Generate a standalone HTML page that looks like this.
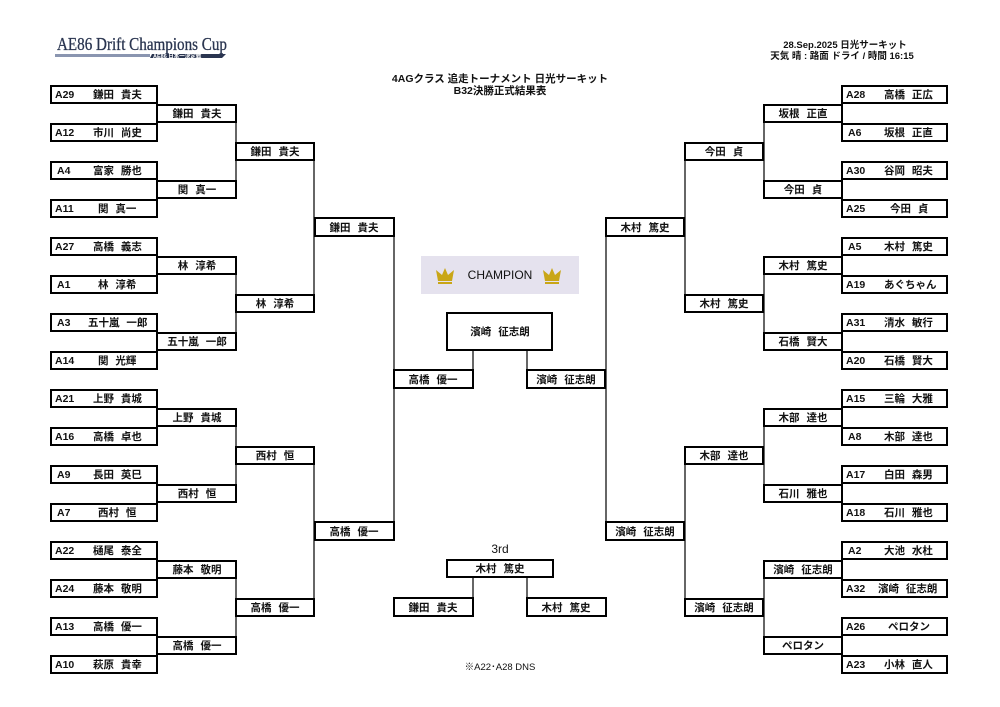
<!DOCTYPE html>
<html><head><meta charset="utf-8"><style>
html,body{margin:0;padding:0;background:#fff;width:1000px;height:707px;overflow:hidden}
svg{display:block}
text{font-family:"Liberation Sans","Noto Sans CJK JP",sans-serif;font-weight:bold;fill:#111}
.b{fill:#fff;stroke:#000;stroke-width:2}
.l{stroke:#000;stroke-width:1.2;fill:none}
.t{font-size:10.5px;word-spacing:4px}
</style></head><body>
<svg width="1000" height="707" viewBox="0 0 1000 707" xmlns="http://www.w3.org/2000/svg">
<!-- logo -->
<text x="57" y="50" textLength="170" lengthAdjust="spacingAndGlyphs" style="font-family:'Liberation Serif',serif;font-size:18px;font-weight:normal;fill:#2a3550;stroke:#2a3550;stroke-width:0.3">AE86 Drift Champions Cup</text>
<polygon points="55,58 150,58 152,54 226,54 222,58 55,58" fill="#2a3550"/>
<rect x="55" y="54" width="95" height="3" fill="#8a95b0"/>
<text x="153" y="58" style="font-size:5.5px;fill:#fff">AE86 日本一決定戦</text>
<!-- title -->
<text x="500" y="82" text-anchor="middle" style="font-size:10.5px">4AGクラス 追走トーナメント 日光サーキット</text>
<text x="500" y="94" text-anchor="middle" style="font-size:10.5px">B32決勝正式結果表</text>
<text x="845" y="48" text-anchor="middle" style="font-size:9.5px">28.Sep.2025 日光サーキット</text>
<text x="842" y="59" text-anchor="middle" style="font-size:9.5px">天気 晴 : 路面 ドライ / 時間 16:15</text>

<!-- connectors -->
<g class="l">
<line x1="236" y1="104" x2="236" y2="199"/><line x1="236" y1="256" x2="236" y2="351"/>
<line x1="236" y1="408" x2="236" y2="503"/><line x1="236" y1="560" x2="236" y2="655"/>
<line x1="314" y1="142" x2="314" y2="313"/><line x1="314" y1="446" x2="314" y2="617"/>
<line x1="394" y1="218" x2="394" y2="541"/>
<line x1="764" y1="104" x2="764" y2="199"/><line x1="764" y1="256" x2="764" y2="351"/>
<line x1="764" y1="408" x2="764" y2="503"/><line x1="764" y1="560" x2="764" y2="655"/>
<line x1="685" y1="142" x2="685" y2="313"/><line x1="685" y1="446" x2="685" y2="617"/>
<line x1="606" y1="218" x2="606" y2="541"/>
<line x1="473" y1="350" x2="473" y2="370"/><line x1="527" y1="350" x2="527" y2="370"/>
<line x1="473" y1="578" x2="473" y2="598"/><line x1="527" y1="578" x2="527" y2="598"/>
</g>

<!-- left R1 -->
<g class="t">
<rect class="b" x="51" y="86" width="106" height="17"/><text x="55" y="98">A29</text><text x="93" y="98">鎌田 貴夫</text>
<rect class="b" x="51" y="124" width="106" height="17"/><text x="55" y="136">A12</text><text x="93" y="136">市川 尚史</text>
<rect class="b" x="51" y="162" width="106" height="17"/><text x="57" y="174">A4</text><text x="93" y="174">富家 勝也</text>
<rect class="b" x="51" y="200" width="106" height="17"/><text x="55" y="212">A11</text><text x="98" y="212">関 真一</text>
<rect class="b" x="51" y="238" width="106" height="17"/><text x="55" y="250">A27</text><text x="93" y="250">高橋 義志</text>
<rect class="b" x="51" y="276" width="106" height="17"/><text x="57" y="288">A1</text><text x="98" y="288">林 淳希</text>
<rect class="b" x="51" y="314" width="106" height="17"/><text x="57" y="326">A3</text><text x="88" y="326">五十嵐 一郎</text>
<rect class="b" x="51" y="352" width="106" height="17"/><text x="55" y="364">A14</text><text x="98" y="364">関 光輝</text>
<rect class="b" x="51" y="390" width="106" height="17"/><text x="55" y="402">A21</text><text x="93" y="402">上野 貴城</text>
<rect class="b" x="51" y="428" width="106" height="17"/><text x="55" y="440">A16</text><text x="93" y="440">高橋 卓也</text>
<rect class="b" x="51" y="466" width="106" height="17"/><text x="57" y="478">A9</text><text x="93" y="478">長田 英巳</text>
<rect class="b" x="51" y="504" width="106" height="17"/><text x="57" y="516">A7</text><text x="98" y="516">西村 恒</text>
<rect class="b" x="51" y="542" width="106" height="17"/><text x="55" y="554">A22</text><text x="93" y="554">樋尾 泰全</text>
<rect class="b" x="51" y="580" width="106" height="17"/><text x="55" y="592">A24</text><text x="93" y="592">藤本 敬明</text>
<rect class="b" x="51" y="618" width="106" height="17"/><text x="55" y="630">A13</text><text x="93" y="630">高橋 優一</text>
<rect class="b" x="51" y="656" width="106" height="17"/><text x="55" y="668">A10</text><text x="93" y="668">萩原 貴幸</text>
</g>
<g class="t" text-anchor="middle">
<rect class="b" x="157" y="105" width="79" height="17"/><text x="197" y="117">鎌田 貴夫</text>
<rect class="b" x="157" y="181" width="79" height="17"/><text x="197" y="193">関 真一</text>
<rect class="b" x="157" y="257" width="79" height="17"/><text x="197" y="269">林 淳希</text>
<rect class="b" x="157" y="333" width="79" height="17"/><text x="197" y="345">五十嵐 一郎</text>
<rect class="b" x="157" y="409" width="79" height="17"/><text x="197" y="421">上野 貴城</text>
<rect class="b" x="157" y="485" width="79" height="17"/><text x="197" y="497">西村 恒</text>
<rect class="b" x="157" y="561" width="79" height="17"/><text x="197" y="573">藤本 敬明</text>
<rect class="b" x="157" y="637" width="79" height="17"/><text x="197" y="649">高橋 優一</text>
<rect class="b" x="236" y="143" width="78" height="17"/><text x="275" y="155">鎌田 貴夫</text>
<rect class="b" x="236" y="295" width="78" height="17"/><text x="275" y="307">林 淳希</text>
<rect class="b" x="236" y="447" width="78" height="17"/><text x="275" y="459">西村 恒</text>
<rect class="b" x="236" y="599" width="78" height="17"/><text x="275" y="611">高橋 優一</text>
<rect class="b" x="315" y="218" width="79" height="18"/><text x="354" y="231">鎌田 貴夫</text>
<rect class="b" x="315" y="522" width="79" height="18"/><text x="354" y="535">高橋 優一</text>
<rect class="b" x="394" y="370" width="79" height="18"/><text x="433" y="383">高橋 優一</text>
<rect class="b" x="527" y="370" width="78" height="18"/><text x="566" y="383">濱崎 征志朗</text>
<rect class="b" x="606" y="218" width="78" height="18"/><text x="645" y="231">木村 篤史</text>
<rect class="b" x="606" y="522" width="78" height="18"/><text x="645" y="535">濱崎 征志朗</text>
<rect class="b" x="685" y="143" width="78" height="17"/><text x="724" y="155">今田 貞</text>
<rect class="b" x="685" y="295" width="78" height="17"/><text x="724" y="307">木村 篤史</text>
<rect class="b" x="685" y="447" width="78" height="17"/><text x="724" y="459">木部 達也</text>
<rect class="b" x="685" y="599" width="78" height="17"/><text x="724" y="611">濱崎 征志朗</text>
<rect class="b" x="764" y="105" width="78" height="17"/><text x="803" y="117">坂根 正直</text>
<rect class="b" x="764" y="181" width="78" height="17"/><text x="803" y="193">今田 貞</text>
<rect class="b" x="764" y="257" width="78" height="17"/><text x="803" y="269">木村 篤史</text>
<rect class="b" x="764" y="333" width="78" height="17"/><text x="803" y="345">石橋 賢大</text>
<rect class="b" x="764" y="409" width="78" height="17"/><text x="803" y="421">木部 達也</text>
<rect class="b" x="764" y="485" width="78" height="17"/><text x="803" y="497">石川 雅也</text>
<rect class="b" x="764" y="561" width="78" height="17"/><text x="803" y="573">濱崎 征志朗</text>
<rect class="b" x="764" y="637" width="78" height="17"/><text x="803" y="649">ペロタン</text>
</g>
<g class="t">
<rect class="b" x="842" y="86" width="105" height="17"/><text x="846" y="98">A28</text><text x="884" y="98">高橋 正広</text>
<rect class="b" x="842" y="124" width="105" height="17"/><text x="848" y="136">A6</text><text x="884" y="136">坂根 正直</text>
<rect class="b" x="842" y="162" width="105" height="17"/><text x="846" y="174">A30</text><text x="884" y="174">谷岡 昭夫</text>
<rect class="b" x="842" y="200" width="105" height="17"/><text x="846" y="212">A25</text><text x="890" y="212">今田 貞</text>
<rect class="b" x="842" y="238" width="105" height="17"/><text x="848" y="250">A5</text><text x="884" y="250">木村 篤史</text>
<rect class="b" x="842" y="276" width="105" height="17"/><text x="846" y="288">A19</text><text x="884" y="288">あぐちゃん</text>
<rect class="b" x="842" y="314" width="105" height="17"/><text x="846" y="326">A31</text><text x="884" y="326">清水 敏行</text>
<rect class="b" x="842" y="352" width="105" height="17"/><text x="846" y="364">A20</text><text x="884" y="364">石橋 賢大</text>
<rect class="b" x="842" y="390" width="105" height="17"/><text x="846" y="402">A15</text><text x="884" y="402">三輪 大雅</text>
<rect class="b" x="842" y="428" width="105" height="17"/><text x="848" y="440">A8</text><text x="884" y="440">木部 達也</text>
<rect class="b" x="842" y="466" width="105" height="17"/><text x="846" y="478">A17</text><text x="884" y="478">白田 森男</text>
<rect class="b" x="842" y="504" width="105" height="17"/><text x="846" y="516">A18</text><text x="884" y="516">石川 雅也</text>
<rect class="b" x="842" y="542" width="105" height="17"/><text x="848" y="554">A2</text><text x="884" y="554">大池 水杜</text>
<rect class="b" x="842" y="580" width="105" height="17"/><text x="846" y="592">A32</text><text x="878" y="592">濱崎 征志朗</text>
<rect class="b" x="842" y="618" width="105" height="17"/><text x="846" y="630">A26</text><text x="888" y="630">ペロタン</text>
<rect class="b" x="842" y="656" width="105" height="17"/><text x="846" y="668">A23</text><text x="884" y="668">小林 直人</text>
</g>

<rect x="421" y="256" width="158" height="38" fill="#e5e2ee"/>
<g fill="#c9a617">
<polygon points="438,281 436,270 442,275 445,268 448,275 454,270 452,281"/>
<rect x="438" y="282" width="14" height="2"/>
<polygon points="545,281 543,270 549,275 552,268 555,275 561,270 559,281"/>
<rect x="545" y="282" width="14" height="2"/>
</g>
<text x="500" y="279" text-anchor="middle" style="font-size:12px;font-weight:normal">CHAMPION</text>
<rect class="b" x="447" y="313" width="105" height="37"/>
<text x="500" y="335" text-anchor="middle" class="t">濱崎 征志朗</text>

<text x="500" y="553" text-anchor="middle" style="font-size:12px;font-weight:normal">3rd</text>
<rect class="b" x="447" y="560" width="106" height="17"/><text x="500" y="572" text-anchor="middle" class="t">木村 篤史</text>
<rect class="b" x="394" y="598" width="79" height="18"/><text x="433" y="611" text-anchor="middle" class="t">鎌田 貴夫</text>
<rect class="b" x="527" y="598" width="79" height="18"/><text x="566" y="611" text-anchor="middle" class="t">木村 篤史</text>

<text x="500" y="670" text-anchor="middle" style="font-size:9.5px;font-weight:normal">※A22･A28 DNS</text>
</svg>
</body></html>
